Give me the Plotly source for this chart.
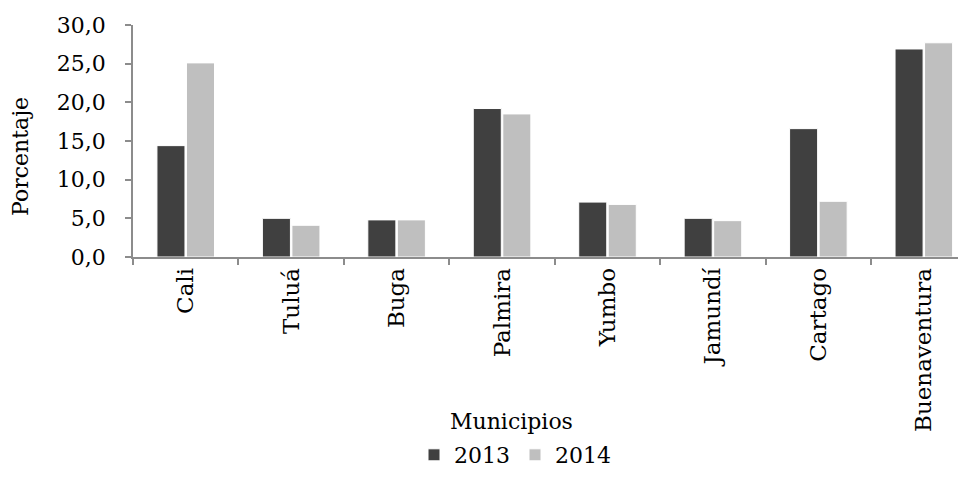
import plotly.graph_objects as go

municipios = ["Cali", "Tuluá", "Buga", "Palmira", "Yumbo", "Jamundí", "Cartago", "Buenaventura"]
valores_2013 = [14.4, 5.0, 4.8, 19.2, 7.1, 5.0, 16.6, 26.9]
valores_2014 = [25.1, 4.1, 4.8, 18.5, 6.8, 4.7, 7.2, 27.7]
y_ticks = [0, 5, 10, 15, 20, 25, 30]

FONT = "DejaVu Serif"
OFF = 8  # default page body margin
W, H = 966 - OFF, 477 - OFF
L, R_PX, T, B_PX = 133 - OFF, 966 - OFF, 25 - OFF, 257 - OFF  # plot area in figure pixels


def px_x(px):
    """page pixel x -> paper x"""
    return (px - OFF - L) / (R_PX - L)


def px_y(py):
    """page pixel y -> paper y"""
    return (B_PX - (py - OFF)) / (B_PX - T)


fig = go.Figure()
fig.add_trace(go.Bar(name="2013", x=municipios, y=valores_2013,
                     marker=dict(color="#404040", line=dict(color="white", width=1))))
fig.add_trace(go.Bar(name="2014", x=municipios, y=valores_2014,
                     marker=dict(color="#BFBFBF", line=dict(color="white", width=1))))

fig.update_layout(
    width=W, height=H,
    margin=dict(l=L, r=W - R_PX, t=T, b=H - B_PX, pad=0),
    paper_bgcolor="white", plot_bgcolor="white",
    barmode="group", bargap=0.44, bargroupgap=0.05,
    separators=",.",
    font=dict(family=FONT, size=22, color="black"),
    showlegend=True,
    legend=dict(orientation="h", x=px_x(515), y=px_y(476), xanchor="center", yanchor="bottom",
                font=dict(family=FONT, size=22, color="black"), itemwidth=30,
                tracegroupgap=0, bgcolor="rgba(0,0,0,0)"),
)

fig.update_xaxes(
    type="category", range=[-0.5, 7.4],
    showline=True, linecolor="#8c8c8c", linewidth=1.5,
    ticks="outside", tickson="boundaries", ticklen=6, tickcolor="#8c8c8c", tickwidth=1.5,
    tickangle=-90, tickfont=dict(family=FONT, size=23, color="black"),
    showgrid=False, zeroline=False,
)
fig.update_yaxes(
    range=[0, 30], tickvals=y_ticks, tickformat=".1f",
    showline=True, linecolor="#8c8c8c", linewidth=1.5,
    ticks="outside", ticklen=6, tickcolor="#8c8c8c", tickwidth=1.5,
    ticklabelstandoff=15,
    tickfont=dict(family=FONT, size=22, color="black"),
    showgrid=False, zeroline=False,
)

fig.add_annotation(text="Porcentaje", xref="paper", yref="paper",
                   x=px_x(20), y=px_y(157), textangle=-90, showarrow=False,
                   xanchor="center", yanchor="middle",
                   font=dict(family=FONT, size=22, color="black"))
fig.add_annotation(text="Municipios", xref="paper", yref="paper",
                   x=px_x(511), y=px_y(421), showarrow=False,
                   xanchor="center", yanchor="middle",
                   font=dict(family=FONT, size=22, color="black"))
fig.add_annotation(text="2013-2014", xref="paper", yref="paper",
                   x=px_x(140), y=px_y(12), showarrow=False,
                   xanchor="right", yanchor="bottom",
                   font=dict(family=FONT, size=22, color="black"))

fig.write_html("out.html")
